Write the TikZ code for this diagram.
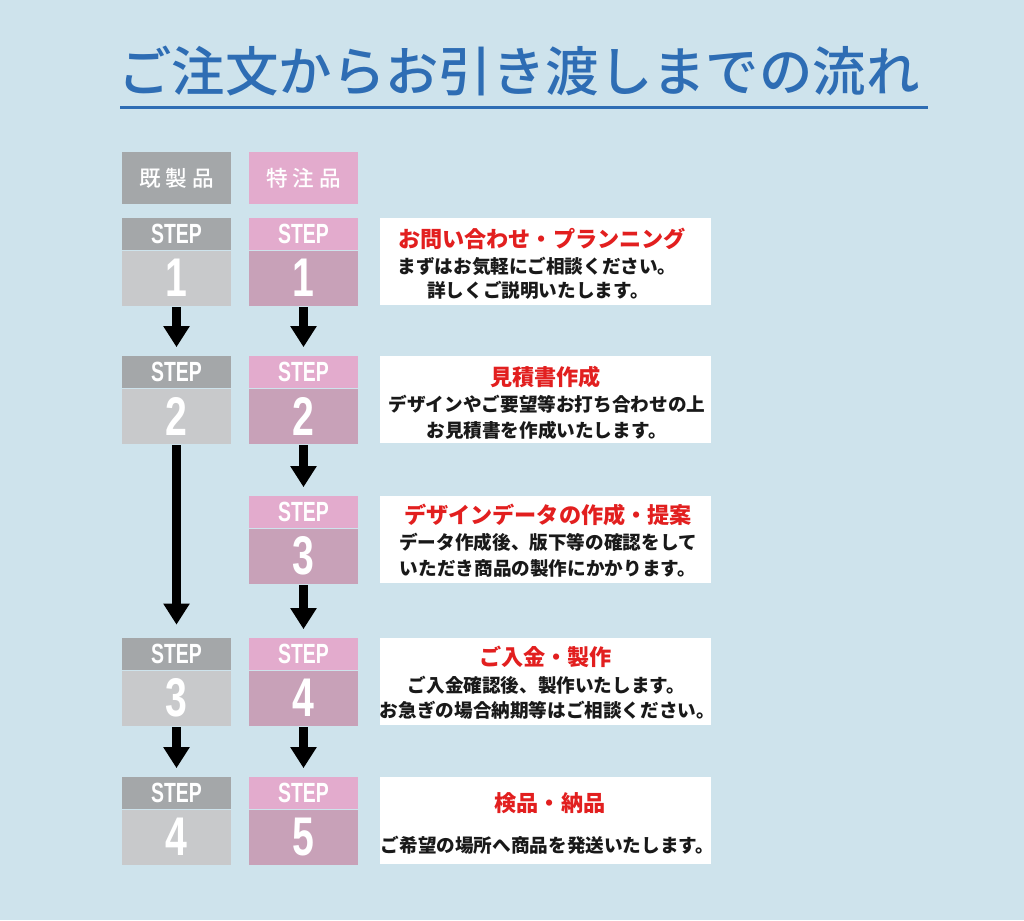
\documentclass[tikz,border=0pt]{standalone}
\usepackage{fontspec}
\usepackage{graphicx}
\usepackage{pgf,tikz}
\usetikzlibrary{arrows.meta}
\usetikzlibrary{positioning}
\newfontfamily\jp{Noto Sans CJK JP}
\newfontfamily\jpmed{Noto Sans CJK JP Medium}
\newfontfamily\stepfont{Liberation Sans}
\definecolor{bgblue}{HTML}{CEE3EC}
\definecolor{titleblue}{HTML}{2E6DB4}
\definecolor{flowred}{HTML}{E21F1F}
\definecolor{graybar}{HTML}{A4A7A9}
\definecolor{graynum}{HTML}{C8C9CB}
\definecolor{pinkbar}{HTML}{E3ABCD}
\definecolor{pinknum}{HTML}{C8A1B8}
\newcommand{\steplabel}{\scalebox{0.7}[1]{STEP}}
\newcommand{\stepnum}[1]{\scalebox{0.72}[1]{#1}}

\begin{document}
\begin{tikzpicture}[line cap=butt,line join=round,x=0.02cm,y=-0.02cm,
  bar/.style={minimum width=2.18cm,minimum height=0.64cm,inner sep=0pt,text=white,font=\stepfont\bfseries\fontsize{15.8}{16}\selectfont},
  num/.style={minimum width=2.18cm,minimum height=1.1cm,inner sep=0pt,text=white,font=\stepfont\bfseries\fontsize{31}{31}\selectfont},
  head/.style={minimum width=2.18cm,minimum height=1.04cm,inner sep=0pt,text=white,font=\jpmed\fontsize{12.3}{13}\selectfont},
  txtbox/.style={fill=white,minimum width=6.64cm,minimum height=1.74cm,inner sep=0pt},
  redttl/.style={text=flowred,inner sep=0pt,font=\jp\bfseries\fontsize{12.6}{13}\selectfont},
  body/.style={text=black!90,inner sep=0pt,font=\jp\bfseries\fontsize{10.6}{11}\selectfont},
  arr/.style={line width=0.18cm,-{Triangle[width=0.5cm,length=0.42cm]},shorten <=0.02cm,shorten >=0.17cm}]
\useasboundingbox (0,0) rectangle (1024,920);
\fill [bgblue] (0,0) rectangle (1024,920);
% title
\node [text=titleblue,inner sep=0pt,font=\jpmed\fontsize{30.4}{32}\selectfont] (title) at (519,71) {ご注文からお引き渡しまでの流れ};
\draw [titleblue,line width=0.06cm] (120,107)-- (928,107);
% headers
\node [head,fill=graybar] (hg) at (176.5,178) {既\hspace{0.1cm}製\hspace{0.1cm}品};
\node [head,fill=pinkbar] (hp) at (303.5,178) {特\hspace{0.1cm}注\hspace{0.1cm}品};
% gray column
\node [bar,fill=graybar] (g1s) at (176.5,234) {\steplabel};
\node [num,fill=graynum,below=0pt of g1s] (g1n) {\stepnum{1}};
\node [bar,fill=graybar] (g2s) at (176.5,372) {\steplabel};
\node [num,fill=graynum,below=0pt of g2s] (g2n) {\stepnum{2}};
\node [bar,fill=graybar] (g3s) at (176.5,654) {\steplabel};
\node [num,fill=graynum,below=0pt of g3s] (g3n) {\stepnum{3}};
\node [bar,fill=graybar] (g4s) at (176.5,793) {\steplabel};
\node [num,fill=graynum,below=0pt of g4s] (g4n) {\stepnum{4}};
% pink column
\node [bar,fill=pinkbar] (p1s) at (303.5,234) {\steplabel};
\node [num,fill=pinknum,below=0pt of p1s] (p1n) {\stepnum{1}};
\node [bar,fill=pinkbar] (p2s) at (303.5,372) {\steplabel};
\node [num,fill=pinknum,below=0pt of p2s] (p2n) {\stepnum{2}};
\node [bar,fill=pinkbar] (p3s) at (303.5,512) {\steplabel};
\node [num,fill=pinknum,below=0pt of p3s] (p3n) {\stepnum{3}};
\node [bar,fill=pinkbar] (p4s) at (303.5,654) {\steplabel};
\node [num,fill=pinknum,below=0pt of p4s] (p4n) {\stepnum{4}};
\node [bar,fill=pinkbar] (p5s) at (303.5,793) {\steplabel};
\node [num,fill=pinknum,below=0pt of p5s] (p5n) {\stepnum{5}};
% arrows
\draw [arr] (g1n) -- (g2s);
\draw [arr,shorten >=0.26cm] (g2n) -- (g3s);
\draw [arr] (g3n) -- (g4s);
\draw [arr] (p1n) -- (p2s);
\draw [arr] (p2n) -- (p3s);
\draw [arr] (p3n) -- (p4s);
\draw [arr] (p4n) -- (p5s);
% text boxes
\node [txtbox] (t1) at (545.5,261.5) {};
\node [redttl] (t1h) at (542,239) {お問い合わせ・プランニング};
\node [body] (t1a) at (537,266) {まずはお気軽にご相談ください。};
\node [body] (t1b) at (538,290) {詳しくご説明いたします。};
\node [txtbox] (t2) at (545.5,399.5) {};
\node [redttl] (t2h) at (545.5,377) {見積書作成};
\node [body] (t2a) at (547,404) {デザインやご要望等お打ち合わせの上};
\node [body] (t2b) at (546.5,430) {お見積書を作成いたします。};
\node [txtbox] (t3) at (545.5,539.5) {};
\node [redttl] (t3h) at (548,515) {デザインデータの作成・提案};
\node [body] (t3a) at (548,542) {データ作成後、版下等の確認をして};
\node [body] (t3b) at (548,568) {いただき商品の製作にかかります。};
\node [txtbox] (t4) at (545.5,681.5) {};
\node [redttl] (t4h) at (545.5,657) {ご入金・製作};
\node [body] (t4a) at (546.5,685) {ご入金確認後、製作いたします。};
\node [body] (t4b) at (547.5,710) {お急ぎの場合納期等はご相談ください。};
\node [txtbox] (t5) at (545.5,820.5) {};
\node [redttl] (t5h) at (550,803) {検品・納品};
\node [body] (t5a) at (547.5,845) {ご希望の場所へ商品を発送いたします。};
\end{tikzpicture}
\end{document}
